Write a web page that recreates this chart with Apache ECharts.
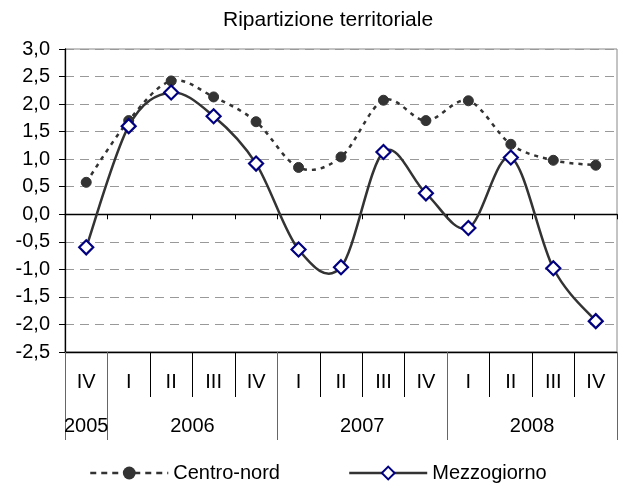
<!DOCTYPE html>
<html>
<head>
<meta charset="utf-8">
<script src="https://cdn.jsdelivr.net/npm/echarts@6/dist/echarts.min.js"></script>
<style>
html,body{margin:0;padding:0;background:#fff;}
#c{width:618px;height:486px;}
</style>
</head>
<body>
<div id="c"></div>
<script>
const quarters = ['IV','I','II','III','IV','I','II','III','IV','I','II','III','IV'];
const years = ['2005','2006','2007','2008'];
const yearLabelPos = [0.5, 3, 7, 11];
const yearSeparators = [0, 1, 5, 9, 13];
const centroNord = [0.58, 1.70, 2.42, 2.13, 1.68, 0.85, 1.04, 2.07, 1.70, 2.06, 1.27, 0.98, 0.89];
const mezzogiorno = [-0.60, 1.60, 2.21, 1.78, 0.92, -0.64, -0.96, 1.13, 0.38, -0.25, 1.03, -0.98, -1.94];

const FONT = '"Liberation Sans", Arial, sans-serif';
const chart = echarts.init(document.getElementById('c'), null, {renderer:'canvas'});
const fmt = v => String(v.toFixed(1)).replace('.', ',');

// Smooth (Catmull-Rom style, like spreadsheet smoothing) path through points mapped by the axes
function splineRenderer(values, style) {
  return function (params, api) {
    if (params.dataIndex !== 0) return null;
    const pts = values.map((v, i) => api.coord([i, v]));
    let d = 'M' + pts[0][0] + ' ' + pts[0][1];
    for (let i = 0; i < pts.length - 1; i++) {
      const p0 = pts[Math.max(i - 1, 0)], p1 = pts[i], p2 = pts[i + 1], p3 = pts[Math.min(i + 2, pts.length - 1)];
      const c1x = p1[0] + (p2[0] - p0[0]) / 6, c1y = p1[1] + (p2[1] - p0[1]) / 6;
      const c2x = p2[0] - (p3[0] - p1[0]) / 6, c2y = p2[1] - (p3[1] - p1[1]) / 6;
      d += ' C' + c1x + ' ' + c1y + ' ' + c2x + ' ' + c2y + ' ' + p2[0] + ' ' + p2[1];
    }
    return {
      type: 'path',
      shape: {pathData: d},
      style: Object.assign({fill: null}, style),
      silent: true
    };
  };
}

chart.setOption({
  animation: false,
  backgroundColor: '#fff',
  title: {
    text: 'Ripartizione territoriale',
    left: 223, top: 10, padding: 0,
    textStyle: {fontFamily: FONT, fontSize: 21, fontWeight: 'normal', color: '#000'}
  },
  legend: {
    left: 89, top: 463, padding: 0,
    itemWidth: 78, itemHeight: 16, itemGap: 68,
    textStyle: {fontFamily: FONT, fontSize: 20, color: '#000'},
    data: [
      {name: 'Centro-nord', lineStyle: {opacity: 1, color: '#333', width: 2.5, type: [6, 5]}},
      {name: 'Mezzogiorno', lineStyle: {opacity: 1, color: '#333', width: 2.5, type: 'solid'}}
    ]
  },
  grid: {
    left: 65, right: 1, top: 49, bottom: 134,
    show: true, borderColor: '#888', borderWidth: 1, backgroundColor: 'transparent'
  },
  xAxis: [
    {
      type: 'category', data: quarters, boundaryGap: true,
      axisLine: {onZero: true, lineStyle: {color: '#000', width: 1.3}},
      axisTick: {show: true, interval: 0, length: 5, lineStyle: {color: '#000'}},
      axisLabel: {show: false},
      splitLine: {show: false}
    },
    {
      type: 'category', data: quarters, boundaryGap: true, position: 'bottom',
      axisLine: {onZero: false, lineStyle: {color: '#000', width: 1.3}},
      axisTick: {show: true, interval: 0, length: 45, lineStyle: {color: '#000'}},
      axisLabel: {interval: 0, margin: 20, fontFamily: FONT, fontSize: 20, color: '#000'},
      splitLine: {show: false}
    },
    {
      type: 'value', min: 0, max: 13, position: 'bottom',
      axisLine: {show: false, onZero: false},
      axisTick: {show: true, customValues: yearSeparators, length: 88, lineStyle: {color: '#666'}},
      axisLabel: {
        customValues: yearLabelPos, margin: 64,
        fontFamily: FONT, fontSize: 20, color: '#000',
        formatter: v => years[yearLabelPos.indexOf(v)]
      },
      splitLine: {show: false}
    }
  ],
  yAxis: {
    type: 'value', min: -2.5, max: 3, interval: 0.5,
    axisLine: {show: true, lineStyle: {color: '#000', width: 1.3}},
    axisTick: {show: true, length: 6, lineStyle: {color: '#000'}},
    axisLabel: {margin: 15, fontFamily: FONT, fontSize: 20, color: '#000', formatter: fmt},
    splitLine: {show: true, lineStyle: {color: '#999', type: [9, 6], width: 1}}
  },
  series: [
    {
      name: 'Centro-nord curve', type: 'custom', xAxisIndex: 0, yAxisIndex: 0,
      data: centroNord.map((v, i) => [i, v]),
      renderItem: splineRenderer(centroNord, {stroke: '#333', lineWidth: 2.5, lineDash: [4, 5]}),
      z: 1
    },
    {
      name: 'Mezzogiorno curve', type: 'custom', xAxisIndex: 0, yAxisIndex: 0,
      data: mezzogiorno.map((v, i) => [i, v]),
      renderItem: splineRenderer(mezzogiorno, {stroke: '#333', lineWidth: 2.5}),
      z: 1
    },
    {
      name: 'Centro-nord', type: 'line', xAxisIndex: 0, data: centroNord,
      symbol: 'circle', symbolSize: 10, showAllSymbol: true,
      lineStyle: {color: '#333', width: 2.5, type: [4, 5], opacity: 0},
      itemStyle: {color: '#333', borderColor: '#333'},
      z: 2
    },
    {
      name: 'Mezzogiorno', type: 'line', xAxisIndex: 0, data: mezzogiorno,
      symbol: 'diamond', symbolSize: 14, showAllSymbol: true,
      lineStyle: {color: '#333', width: 2.5, opacity: 0},
      itemStyle: {color: '#fff', borderColor: '#000080', borderWidth: 2.2},
      z: 3
    }
  ]
});
</script>
</body>
</html>
